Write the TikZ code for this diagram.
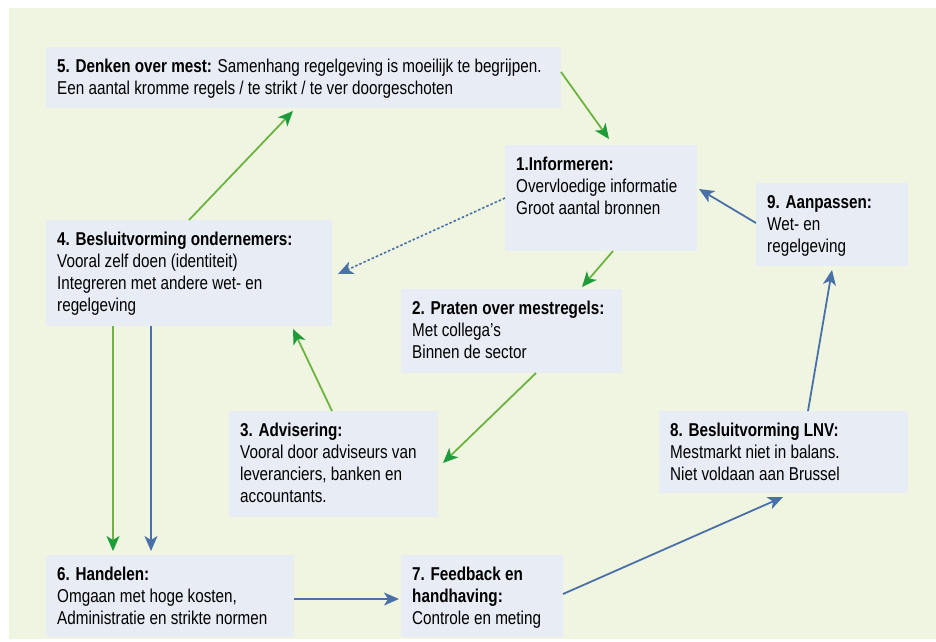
\documentclass[tikz,border=0pt]{standalone}
\usepackage{fontspec}
\setmainfont{Liberation Sans}[FakeStretch=0.82]
\usetikzlibrary{arrows.meta,calc}
\definecolor{bgcol}{HTML}{F0F5E2}
\definecolor{boxcol}{HTML}{E8ECF5}
\definecolor{glight}{HTML}{6DB33F}
\definecolor{gdark}{HTML}{1E9B3A}
\definecolor{bluec}{HTML}{4A70A8}
\begin{document}
\begin{tikzpicture}[x=1pt,y=-1pt,
  box/.style={fill=boxcol,draw=none,anchor=north west,inner sep=0pt,outer sep=0pt},
  txt/.style={anchor=base west,inner sep=0pt,align=left,text=black,font=\fontsize{18.6}{22}\selectfont},
  garrow/.style={draw=glight,line width=1.8pt,-{Stealth[length=15pt,width=13pt,inset=4pt,color=gdark]}},
  barrow/.style={draw=bluec,line width=1.8pt,-{Stealth[length=15pt,width=13pt,inset=4pt,color=bluec]}},
  darrow/.style={draw=bluec,line width=1.6pt,dash pattern=on 2.5pt off 2pt,-{Stealth[length=15pt,width=13pt,inset=4pt,color=bluec]}}]
\useasboundingbox (0,0) rectangle (936,641);
\fill[white] (0,0) rectangle (936,641);
\fill[bgcol] (9,8) rectangle (936,639);
% boxes
\node[box,minimum width=515pt,minimum height=61pt] (b5) at (46,47) {};
\node[box,minimum width=192pt,minimum height=106pt] (b1) at (505,145) {};
\node[box,minimum width=152pt,minimum height=83pt] (b9) at (756,183) {};
\node[box,minimum width=286pt,minimum height=106pt] (b4) at (46,220) {};
\node[box,minimum width=221pt,minimum height=84pt] (b2) at (401,289) {};
\node[box,minimum width=209pt,minimum height=106pt] (b3) at (229,411) {};
\node[box,minimum width=249pt,minimum height=82pt] (b8) at (659,411) {};
\node[box,minimum width=248pt,minimum height=82pt] (b6) at (46,555) {};
\node[box,minimum width=162pt,minimum height=82pt] (b7) at (401,555) {};
% texts (anchor = baseline of the last line)
\node[txt] (t5) at ($(b5.north west)+(11,47.7)$) {\textbf{5. Denken over mest:} Samenhang regelgeving is moeilijk te begrijpen.\\Een aantal kromme regels / te strikt / te ver doorgeschoten};
\node[txt] (t1) at ($(b1.north west)+(11,69.7)$) {\textbf{1.Informeren:}\\Overvloedige informatie\\Groot aantal bronnen};
\node[txt] (t9) at ($(b9.north west)+(11,69.7)$) {\textbf{9. Aanpassen:}\\Wet- en\\regelgeving};
\node[txt] (t4) at ($(b4.north west)+(11,91.7)$) {\textbf{4. Besluitvorming ondernemers:}\\Vooral zelf doen (identiteit)\\Integreren met andere wet- en\\regelgeving};
\node[txt] (t2) at ($(b2.north west)+(11,69.7)$) {\textbf{2. Praten over mestregels:}\\Met collega’s\\Binnen de sector};
\node[txt] (t3) at ($(b3.north west)+(11,91.7)$) {\textbf{3. Advisering:}\\Vooral door adviseurs van\\leveranciers, banken en\\accountants.};
\node[txt] (t8) at ($(b8.north west)+(11,69.7)$) {\textbf{8. Besluitvorming LNV:}\\Mestmarkt niet in balans.\\Niet voldaan aan Brussel};
\node[txt] (t6) at ($(b6.north west)+(11,69.7)$) {\textbf{6. Handelen:}\\Omgaan met hoge kosten,\\Administratie en strikte normen};
\node[txt] (t7) at ($(b7.north west)+(11,69.7)$) {\textbf{7. Feedback en}\\\textbf{handhaving:}\\Controle en meting};
% connectors
\draw[garrow] ($(b5.north east)+(0,25)$) -- ($(b1.north west)+(104,-6)$);
\draw[garrow] ($(b1.south west)+(108,0)$) -- ($(b2.north west)+(181,-2)$);
\draw[barrow] ($(b9.north west)+(0,40)$) -- ($(b1.north east)+(2,44)$);
\draw[barrow] ($(b8.north west)+(149,0)$) -- ($(b9.south west)+(76,4)$);
\draw[darrow] ($(b1.north west)+(0,53)$) -- ($(b4.north east)+(6,54)$);
\draw[garrow] ($(b2.south west)+(135,0)$) -- ($(b3.north east)+(5,52)$);
\draw[garrow] ($(b3.north west)+(103,0)$) -- ($(b4.south west)+(247,3)$);
\draw[garrow] ($(b4.north west)+(143,0)$) -- ($(b5.south west)+(247,3)$);
\draw[garrow] ($(b4.south west)+(67,0)$) -- ($(b6.north west)+(67,-4)$);
\draw[barrow] ($(b4.south west)+(105,0)$) -- ($(b6.north west)+(105,-4)$);
\draw[barrow] ($(b6.north east)+(0,44)$) -- ($(b7.north west)+(-2,44)$);
\draw[barrow] ($(b7.north east)+(0,39)$) -- ($(b8.south west)+(124,4)$);
\end{tikzpicture}
\end{document}
